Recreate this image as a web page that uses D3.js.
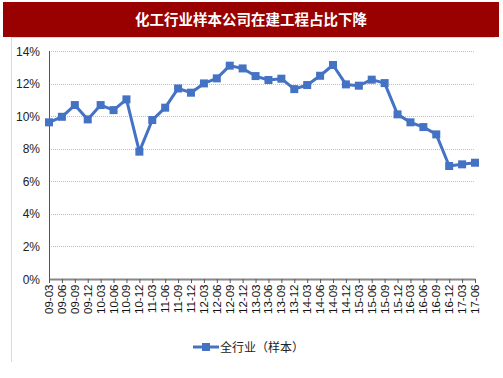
<!DOCTYPE html>
<html>
<head>
<meta charset="utf-8">
<script src="https://cdn.jsdelivr.net/npm/d3@7"></script>
<style>
  body { margin: 0; background: #fff; }
  svg { display: block; }
</style>
</head>
<body>
<svg width="503" height="378"></svg>
<script>
const title = "化工行业样本公司在建工程占比下降";
const seriesName = "全行业（样本）";
const quarters = ["09-03","09-06","09-09","09-12","10-03","10-06","10-09","10-12",
  "11-03","11-06","11-09","11-12","12-03","12-06","12-09","12-12",
  "13-03","13-06","13-09","13-12","14-03","14-06","14-09","14-12",
  "15-03","15-06","15-09","15-12","16-03","16-06","16-09","16-12",
  "17-03","17-06"];
const values = [9.62, 9.96, 10.68, 9.8, 10.68, 10.37, 11.03, 7.82,
  9.76, 10.52, 11.7, 11.44, 12.01, 12.32, 13.1, 12.93,
  12.46, 12.22, 12.3, 11.66, 11.91, 12.48, 13.14, 11.95,
  11.87, 12.24, 12.03, 10.11, 9.62, 9.33, 8.88, 6.94,
  7.04, 7.14];
const yTicks = [0, 2, 4, 6, 8, 10, 12, 14];

const svg = d3.select("svg");
const blue = "#4472C4";
const font = "Arial, 'Liberation Sans', 'Noto Sans CJK SC', sans-serif";

// title bar
svg.append("rect").attr("x", 3).attr("y", 2).attr("width", 496).attr("height", 35).attr("fill", "#990000");
svg.append("text").attr("x", 251).attr("y", 24.5).attr("text-anchor", "middle")
  .attr("fill", "#fff").attr("font-size", 14.5).attr("font-weight", "bold")
  .attr("font-family", "'Noto Sans CJK SC', sans-serif").text(title);
// frame lines
svg.append("line").attr("x1", 11.5).attr("x2", 11.5).attr("y1", 37).attr("y2", 362).attr("stroke", "#d9d9d9");
svg.append("line").attr("x1", 11).attr("x2", 495).attr("y1", 37.5).attr("y2", 37.5).attr("stroke", "#d9d9d9");

const x0 = 49, x1 = 475, yTop = 51, yBot = 279;
const x = d3.scalePoint().domain(quarters).range([x0, x1]);
const y = d3.scaleLinear().domain([0, 14]).range([yBot, yTop]);

// grid
svg.append("g").selectAll("line").data(yTicks.filter(d => d > 0)).join("line")
  .attr("x1", x0).attr("x2", x1)
  .attr("y1", d => Math.round(y(d)) + 0.5).attr("y2", d => Math.round(y(d)) + 0.5)
  .attr("stroke", "#bfbfbf").attr("stroke-dasharray", "1,1");

// y axis labels
svg.append("g").selectAll("text").data(yTicks).join("text")
  .attr("x", 40).attr("y", d => y(d) + 4.5).attr("text-anchor", "end")
  .attr("font-size", 12).attr("font-family", font).attr("fill", "#222")
  .text(d => d + "%");

// axes
svg.append("line").attr("x1", x0 + 0.5).attr("x2", x0 + 0.5).attr("y1", yTop).attr("y2", yBot)
  .attr("stroke", "#555").attr("stroke-width", 1);
const xAxis = d3.axisBottom(x).tickSize(4).tickSizeOuter(0).tickFormat("");
const gx = svg.append("g").attr("transform", `translate(0,${yBot})`).call(xAxis);
gx.select(".domain").attr("stroke", "#888").attr("stroke-width", 2);
gx.selectAll(".tick line").attr("stroke", "#555");

svg.append("g").selectAll("text").data(quarters).join("text")
  .attr("transform", d => `translate(${x(d) + 4},284.5) rotate(-90)`)
  .attr("text-anchor", "end").attr("font-size", 11.5).attr("font-family", font).attr("fill", "#111")
  .text(d => d);

// series
const line = d3.line().x((d, i) => x(quarters[i])).y(d => y(d));
svg.append("path").datum(values).attr("d", line)
  .attr("fill", "none").attr("stroke", blue).attr("stroke-width", 3).attr("stroke-linejoin", "round");
svg.append("g").selectAll("rect").data(values).join("rect")
  .attr("x", (d, i) => x(quarters[i]) - 4).attr("y", d => y(d) - 4)
  .attr("width", 8).attr("height", 8).attr("fill", blue);

// legend
svg.append("line").attr("x1", 193).attr("x2", 219).attr("y1", 347).attr("y2", 347)
  .attr("stroke", blue).attr("stroke-width", 3);
svg.append("rect").attr("x", 202).attr("y", 343).attr("width", 8).attr("height", 8).attr("fill", blue);
svg.append("text").attr("x", 220).attr("y", 351.5).attr("font-size", 12)
  .attr("font-family", "'Noto Sans CJK SC', sans-serif").attr("fill", "#222").text(seriesName);
</script>
</body>
</html>
